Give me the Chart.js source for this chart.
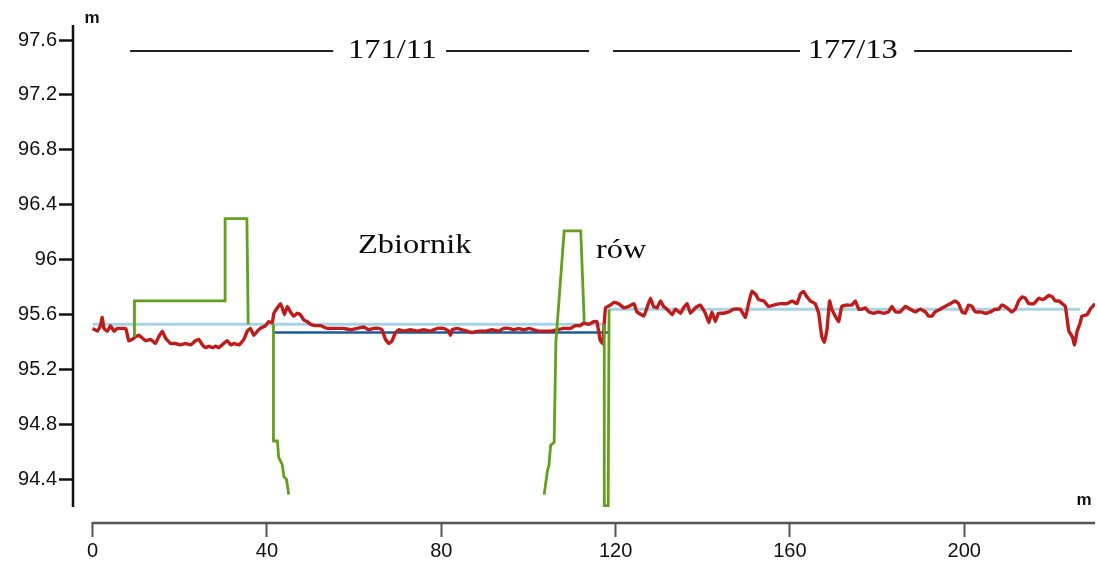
<!DOCTYPE html>
<html>
<head>
<meta charset="utf-8">
<script src="https://cdn.jsdelivr.net/npm/chart.js@4.4.0/dist/chart.umd.min.js"></script>
<style>
    html, body { margin: 0; padding: 0; background: #fff; }
    #wrap { width: 1097px; height: 562px; }
</style>
</head>
<body>
<div id="wrap"><canvas id="profileChart" width="1097" height="562"></canvas></div>
<script>
// ---------- DATA ----------
const xTicks = [0, 40, 80, 120, 160, 200];
const yTicks = [94.4, 94.8, 95.2, 95.6, 96, 96.4, 96.8, 97.2, 97.6];
const yTickLabels = ["94.4", "94.8", "95.2", "95.6", "96", "96.4", "96.8", "97.2", "97.6"];

// measured surface (red)
const redX = [
    0, 1.1, 1.8, 2.2, 2.6, 3.4, 4.1, 4.9, 5.7, 6.8, 7.6, 8.3, 9.1, 9.9, 10.6, 11.4, 12.2, 13.3, 14.4, 15.2,
    16.0, 16.7, 17.9, 19.0, 20.2, 21.3, 22.5, 23.6, 24.4, 25.2, 25.9, 26.7, 27.5, 28.2, 29.0, 29.7, 30.9, 31.7, 32.4, 33.6,
    34.7, 35.5, 36.2, 37.0, 37.8, 38.5, 39.7, 40.4, 41.2, 41.6, 42.4, 43.1, 43.5, 44.0, 44.7, 45.4, 46.2, 46.9, 47.7, 48.5,
    49.2, 50.0, 51.1, 52.3, 53.8, 55.3, 57.6, 59.2, 60.7, 62.2, 63.4, 64.5, 65.7, 66.4, 67.2, 68.0, 68.7, 69.5, 70.3, 71.4,
    72.9, 74.5, 76.0, 77.5, 79.1, 80.6, 81.7, 82.1, 82.5, 83.6, 84.8, 85.9, 87.1, 88.6, 90.1, 91.7, 93.2, 94.3, 95.5, 96.6,
    97.8, 98.9, 100.1, 101.2, 102.4, 103.5, 105.0, 106.6, 108.1, 109.6, 110.8, 111.9, 112.7, 113.8, 115.0, 115.7, 116.1, 116.5, 117.1, 117.4,
    117.7, 118.8, 119.6, 120.7, 121.9, 123.0, 124.2, 124.9, 126.5, 127.2, 128.0, 128.7, 129.5, 130.3, 131.0, 131.8, 133.0, 133.7, 134.9, 135.6,
    136.4, 137.2, 138.3, 139.4, 140.6, 141.4, 142.1, 142.9, 143.6, 144.8, 145.9, 147.1, 148.6, 149.8, 150.5, 151.3, 152.1, 152.8, 154.0, 155.1,
    156.3, 157.8, 159.3, 160.5, 161.6, 162.4, 163.1, 163.9, 164.7, 165.8, 166.6, 167.3, 167.9, 168.5, 169.1, 169.6, 170.4, 171.2, 171.9, 173.1,
    174.2, 175.0, 175.8, 176.5, 177.3, 178.1, 179.2, 180.3, 181.5, 182.6, 183.4, 184.2, 185.3, 186.5, 187.6, 188.8, 189.9, 191.1, 191.8, 192.6,
    193.3, 194.5, 195.6, 196.8, 197.9, 198.7, 199.5, 200.2, 201.0, 201.8, 202.5, 203.7, 204.8, 206.0, 207.1, 207.9, 208.6, 209.8, 210.9, 211.7,
    212.5, 213.3, 214.0, 214.8, 216.0, 217.1, 217.9, 218.6, 219.4, 220.2, 220.9, 221.7, 222.5, 223.2, 224.0, 224.8, 225.3, 225.9, 226.6, 227.0,
    228.2, 228.9, 230.0
];
const redY = [
    95.50, 95.48, 95.52, 95.58, 95.50, 95.48, 95.52, 95.48, 95.50, 95.50, 95.50, 95.41, 95.42, 95.44, 95.45, 95.43, 95.41, 95.42, 95.39, 95.44,
    95.48, 95.43, 95.39, 95.39, 95.38, 95.39, 95.38, 95.41, 95.42, 95.38, 95.36, 95.37, 95.36, 95.37, 95.36, 95.38, 95.41, 95.38, 95.39, 95.38,
    95.42, 95.48, 95.50, 95.45, 95.48, 95.50, 95.52, 95.55, 95.54, 95.61, 95.65, 95.68, 95.65, 95.60, 95.66, 95.62, 95.59, 95.61, 95.60, 95.56,
    95.55, 95.53, 95.52, 95.52, 95.50, 95.50, 95.50, 95.49, 95.50, 95.51, 95.49, 95.50, 95.50, 95.49, 95.42, 95.39, 95.41, 95.47, 95.49, 95.48,
    95.49, 95.48, 95.49, 95.48, 95.50, 95.50, 95.48, 95.45, 95.49, 95.50, 95.49, 95.48, 95.47, 95.48, 95.48, 95.49, 95.48, 95.50, 95.50, 95.49,
    95.50, 95.49, 95.50, 95.49, 95.48, 95.48, 95.48, 95.49, 95.50, 95.50, 95.52, 95.52, 95.54, 95.53, 95.55, 95.55, 95.48, 95.41, 95.39, 95.54,
    95.65, 95.67, 95.69, 95.68, 95.65, 95.66, 95.68, 95.62, 95.59, 95.65, 95.72, 95.66, 95.65, 95.70, 95.66, 95.64, 95.60, 95.64, 95.61, 95.65,
    95.68, 95.61, 95.65, 95.67, 95.61, 95.54, 95.62, 95.55, 95.61, 95.61, 95.62, 95.64, 95.64, 95.58, 95.68, 95.77, 95.75, 95.71, 95.70, 95.66,
    95.67, 95.68, 95.68, 95.70, 95.68, 95.75, 95.77, 95.73, 95.70, 95.68, 95.61, 95.44, 95.40, 95.49, 95.70, 95.64, 95.59, 95.55, 95.66, 95.67,
    95.67, 95.70, 95.64, 95.64, 95.65, 95.62, 95.61, 95.62, 95.61, 95.62, 95.66, 95.62, 95.62, 95.66, 95.64, 95.62, 95.64, 95.62, 95.59, 95.59,
    95.62, 95.64, 95.66, 95.68, 95.70, 95.68, 95.62, 95.61, 95.67, 95.66, 95.62, 95.62, 95.61, 95.62, 95.64, 95.64, 95.67, 95.65, 95.62, 95.64,
    95.70, 95.73, 95.72, 95.68, 95.68, 95.72, 95.71, 95.72, 95.74, 95.73, 95.70, 95.70, 95.68, 95.66, 95.48, 95.44, 95.38, 95.48, 95.54, 95.59,
    95.60, 95.64, 95.68
];

// water table / ditch levels (green), null = break in the line
const greenX = [9.6, 9.6, 30.4, 30.4, 35.4, 35.7, 38.5, 41.5, 41.5, 42.4, 42.7, 43.5, 43.9, 44.5, 45.0, 70,
    103.6, 104.4, 104.7, 105.1, 105.9, 106.3, 108.2, 112.0, 112.8, 115, 117.4, 117.4, 118.3, 118.5];
const greenY = [95.44, 95.70, 95.70, 96.30, 96.30, 95.53, null, 95.53, 94.68, 94.68, 94.56, 94.51, 94.42, 94.40, 94.29, null,
    94.29, 94.47, 94.50, 94.65, 94.67, 95.40, 96.21, 96.21, 95.55, null, 95.53, 94.21, 94.21, 95.64];

// design levels (light blue / dark blue)
const lightBlueX = [0, 117.3, 118, 118.5, 226.6];
const lightBlueY = [95.53, 95.53, null, 95.64, 95.64];
const darkBlueX = [41.5, 118.7];
const darkBlueY = [95.47, 95.47];

// ---------- ANNOTATIONS ----------
const headerLevel = 97.52;
const headerTextLevel = 97.47;
const headerSegments = [[8.6, 55.2], [81.1, 113.9], [119.4, 162.3], [188.5, 224.7]];
const headerLabels = [["171/11", 68.8], ["177/13", 174.4]];
const areaLabels = [["Zbiornik", 60.9, 96.05], ["rów", 115.5, 96.01]];

const toPoints = (xs, ys) => xs.map((x, i) => ({ x: x, y: ys[i] }));

function lineSet(label, xs, ys, color, width, tension) {
    return {
        label: label,
        data: toPoints(xs, ys),
        borderColor: color,
        borderWidth: width,
        pointRadius: 0,
        showLine: true,
        spanGaps: false,
        tension: tension || 0
    };
}

// ---------- EXTRA DRAWING (axes lines, labels) ----------
const profileDecor = {
    id: "profileDecor",
    afterDraw(chart) {
        const ctx = chart.ctx;
        const xs = chart.scales.x;
        const ys = chart.scales.y;
        const area = chart.chartArea;
        ctx.save();

        // y axis line (stops at 94.2 like the original)
        ctx.strokeStyle = "#111";
        ctx.lineWidth = 2.5;
        ctx.beginPath();
        ctx.moveTo(area.left, area.top - 1);
        ctx.lineTo(area.left, ys.getPixelForValue(94.2));
        ctx.stroke();

        // x axis line (starts at 0)
        ctx.strokeStyle = "#555";
        ctx.beginPath();
        ctx.moveTo(xs.getPixelForValue(0) - 1, area.bottom);
        ctx.lineTo(area.right, area.bottom);
        ctx.stroke();

        // units
        ctx.fillStyle = "#111";
        ctx.font = "bold 17px 'Liberation Sans', Arial, sans-serif";
        ctx.textAlign = "center";
        ctx.textBaseline = "alphabetic";
        ctx.fillText("m", area.left + 19, 23);
        ctx.fillText("m", area.right - 11, 505);

        // header lines
        ctx.strokeStyle = "#222";
        ctx.lineWidth = 2;
        const hy = ys.getPixelForValue(headerLevel);
        headerSegments.forEach(s => {
            ctx.beginPath();
            ctx.moveTo(xs.getPixelForValue(s[0]), hy);
            ctx.lineTo(xs.getPixelForValue(s[1]), hy);
            ctx.stroke();
        });

        // serif texts, slightly stretched wide like the scanned figure
        ctx.font = "27px 'Liberation Serif', 'Times New Roman', serif";
        ctx.fillStyle = "#0a0a0a";
        headerLabels.forEach(h => {
            ctx.save();
            ctx.translate(xs.getPixelForValue(h[1]), ys.getPixelForValue(headerTextLevel));
            ctx.scale(1.2, 1);
            ctx.textAlign = "center";
            ctx.fillText(h[0], 0, 0);
            ctx.restore();
        });
        areaLabels.forEach(a => {
            ctx.save();
            ctx.translate(xs.getPixelForValue(a[1]), ys.getPixelForValue(a[2]));
            ctx.scale(1.2, 1);
            ctx.textAlign = "left";
            ctx.fillText(a[0], 0, 0);
            ctx.restore();
        });

        ctx.restore();
    }
};

const tickFont = { family: "'Liberation Sans', Arial, sans-serif", size: 20 };

new Chart(document.getElementById("profileChart"), {
    type: "scatter",
    data: {
        datasets: [
            lineSet("rów / zbiornik", greenX, greenY, "#62a01e", 2.8),
            lineSet("teren", redX, redY, "#bf1b1b", 3.4, 0.1),
            lineSet("projekt", darkBlueX, darkBlueY, "#1c5aa0", 2.5),
            lineSet("poziom", lightBlueX, lightBlueY, "#a7d3e6", 3)
        ]
    },
    options: {
        responsive: false,
        animation: false,
        devicePixelRatio: 1,
        layout: { padding: { top: 26, right: 2, left: 0, bottom: 0 } },
        plugins: {
            legend: { display: false },
            tooltip: { enabled: false }
        },
        scales: {
            x: {
                type: "linear",
                min: -4.5,
                max: 230,
                afterFit: s => { s.height = 39; },
                afterBuildTicks: s => { s.ticks = xTicks.map(v => ({ value: v })); },
                border: { display: false },
                grid: { drawOnChartArea: false, drawTicks: true, tickLength: 14, tickWidth: 2, tickColor: "#555" },
                ticks: { color: "#111", font: tickFont, padding: 2, maxRotation: 0,
                    callback: v => String(v) }
            },
            y: {
                type: "linear",
                min: 94.083,
                max: 97.702,
                afterFit: s => { s.width = 73; },
                afterBuildTicks: s => { s.ticks = yTicks.map(v => ({ value: v })); },
                border: { display: false },
                grid: { drawOnChartArea: false, drawTicks: true, tickLength: 14, tickWidth: 2.5, tickColor: "#111" },
                ticks: { color: "#111", font: tickFont, padding: 2,
                    callback: v => yTickLabels[yTicks.indexOf(v)] }
            }
        }
    },
    plugins: [profileDecor]
});
</script>
</body>
</html>
